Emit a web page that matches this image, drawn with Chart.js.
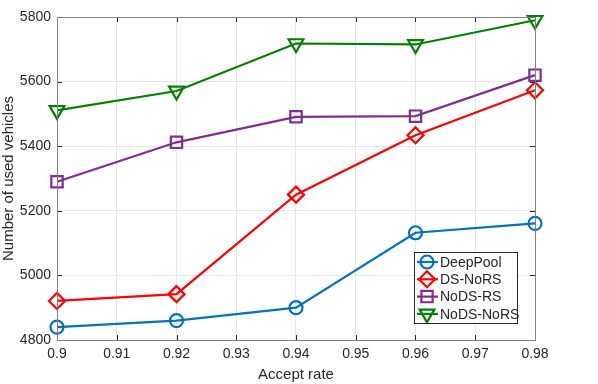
<!DOCTYPE html>
<html>
<head>
<meta charset="utf-8">
<script src="https://cdn.jsdelivr.net/npm/chart.js@4"></script>
<style>
  html, body { margin: 0; padding: 0; background: #fff; }
  #wrap { width: 598px; height: 384px; }
</style>
</head>
<body>
<div id="wrap"><canvas id="usedChart" width="598" height="384"></canvas></div>
<script>
// accept rates on the x axis
const acceptRates = [0.9, 0.92, 0.94, 0.96, 0.98];
const xTicks = [0.9, 0.91, 0.92, 0.93, 0.94, 0.95, 0.96, 0.97, 0.98];
const yTicks = [4800, 5000, 5200, 5400, 5600, 5800];

// number of used vehicles per method
const deepPool = [4840, 4860, 4900, 5132, 5161];
const dsNoRS = [4921, 4942, 5250, 5434, 5573];
const noDsRS = [5290, 5412, 5491, 5493, 5620];
const noDsNoRS = [5511, 5571, 5718, 5715, 5790];

const FONT = '"Liberation Sans", Arial, sans-serif';

function toPoints(vals) {
    return vals.map((v, i) => ({ x: acceptRates[i], y: v }));
}

function series(label, vals, color, style, radius, rotation) {
    return {
        label: label,
        data: toPoints(vals),
        borderColor: color,
        backgroundColor: 'rgba(0,0,0,0)',
        borderWidth: 2.2,
        pointStyle: style,
        pointRadius: radius,
        pointHoverRadius: radius,
        pointBorderWidth: 2.2,
        pointRotation: rotation || 0,
        pointBackgroundColor: 'rgba(0,0,0,0)',
        pointBorderColor: color,
        tension: 0,
        clip: false,
    };
}

// box around the axes, inward ticks, and the legend inside the plot
const boxPlugin = {
    id: 'matlabBox',
    afterDraw(chart) {
        const c = chart.ctx;
        const a = chart.chartArea;
        const xs = chart.scales.x, ys = chart.scales.y;
        c.save();
        c.strokeStyle = '#262626';
        c.lineWidth = 1;
        // ticks
        c.beginPath();
        xTicks.forEach(t => {
            const px = Math.round(xs.getPixelForValue(t)) + 0.5;
            c.moveTo(px, a.bottom); c.lineTo(px, a.bottom - 5);
            c.moveTo(px, a.top); c.lineTo(px, a.top + 5);
        });
        yTicks.forEach(t => {
            const py = Math.round(ys.getPixelForValue(t)) + 0.5;
            c.moveTo(a.left, py); c.lineTo(a.left + 5, py);
            c.moveTo(a.right, py); c.lineTo(a.right - 5, py);
        });
        c.stroke();
        c.strokeStyle = '#808080';
        c.strokeRect(Math.round(a.left) + 0.5, Math.round(a.top) + 0.5,
            Math.round(a.right - a.left), Math.round(a.bottom - a.top));

        // legend
        const lx = 414, ly = 252, lw = 103, lh = 71;
        c.fillStyle = '#fff';
        c.fillRect(lx, ly, lw, lh);
        c.strokeStyle = '#262626';
        c.strokeRect(lx + 0.5, ly + 0.5, lw, lh);
        c.font = '14px ' + FONT;
        c.textBaseline = 'middle';
        c.textAlign = 'left';
        chart.data.datasets.forEach((ds, i) => {
            const cy = ly + 10 + i * 17.3;
            c.strokeStyle = ds.borderColor;
            c.lineWidth = 2.2;
            c.beginPath();
            c.moveTo(lx + 3, cy); c.lineTo(lx + 24, cy);
            c.stroke();
            c.fillStyle = 'rgba(0,0,0,0)';
            Chart.helpers.drawPoint(c, {
                pointStyle: ds.pointStyle,
                rotation: ds.pointRotation,
                radius: ds.pointRadius,
                borderWidth: 2.2,
            }, lx + 13, cy);
            c.fillStyle = '#262626';
            c.fillText(ds.label, lx + 26, cy + 1);
        });
        c.restore();
    }
};

const ctx = document.getElementById('usedChart').getContext('2d');
const usedChart = new Chart(ctx, {
    type: 'line',
    data: {
        datasets: [
            series('DeepPool', deepPool, '#0072BD', 'circle', 6.5),
            series('DS-NoRS', dsNoRS, '#FF0000', 'rectRot', 8),
            series('NoDS-RS', noDsRS, '#7E2F8E', 'rect', 8),
            series('NoDS-NoRS', noDsNoRS, '#008000', 'triangle', 8.5, 180),
        ],
    },
    options: {
        responsive: false,
        animation: false,
        devicePixelRatio: 1,
        layout: { padding: { top: 17, right: 63, left: 0, bottom: 0 } },
        plugins: {
            legend: { display: false },
            tooltip: { enabled: false },
        },
        scales: {
            x: {
                type: 'linear',
                min: 0.9,
                max: 0.98,
                afterBuildTicks: scale => { scale.ticks = xTicks.map(v => ({ value: v })); },
                afterFit: scale => { scale.height = 44; },
                ticks: {
                    callback: v => String(+v.toFixed(2)),
                    color: '#262626',
                    font: { family: FONT, size: 14 },
                    padding: 6,
                    maxRotation: 0,
                },
                grid: { color: '#e6e6e6', drawTicks: false },
                border: { display: false },
                title: {
                    display: true,
                    text: 'Accept rate',
                    color: '#262626',
                    font: { family: FONT, size: 15 },
                    padding: { top: 0, bottom: 0 },
                },
            },
            y: {
                min: 4800,
                max: 5800,
                afterBuildTicks: scale => { scale.ticks = yTicks.map(v => ({ value: v })); },
                afterFit: scale => { scale.width = 57; },
                ticks: {
                    callback: v => String(v),
                    color: '#262626',
                    font: { family: FONT, size: 14 },
                    padding: 6,
                },
                grid: { color: '#e6e6e6', drawTicks: false },
                border: { display: false },
                title: {
                    display: true,
                    text: 'Number of used vehicles',
                    color: '#262626',
                    font: { family: FONT, size: 15 },
                    padding: { top: 0, bottom: 2 },
                },
            },
        },
    },
    plugins: [boxPlugin],
});
</script>
</body>
</html>
